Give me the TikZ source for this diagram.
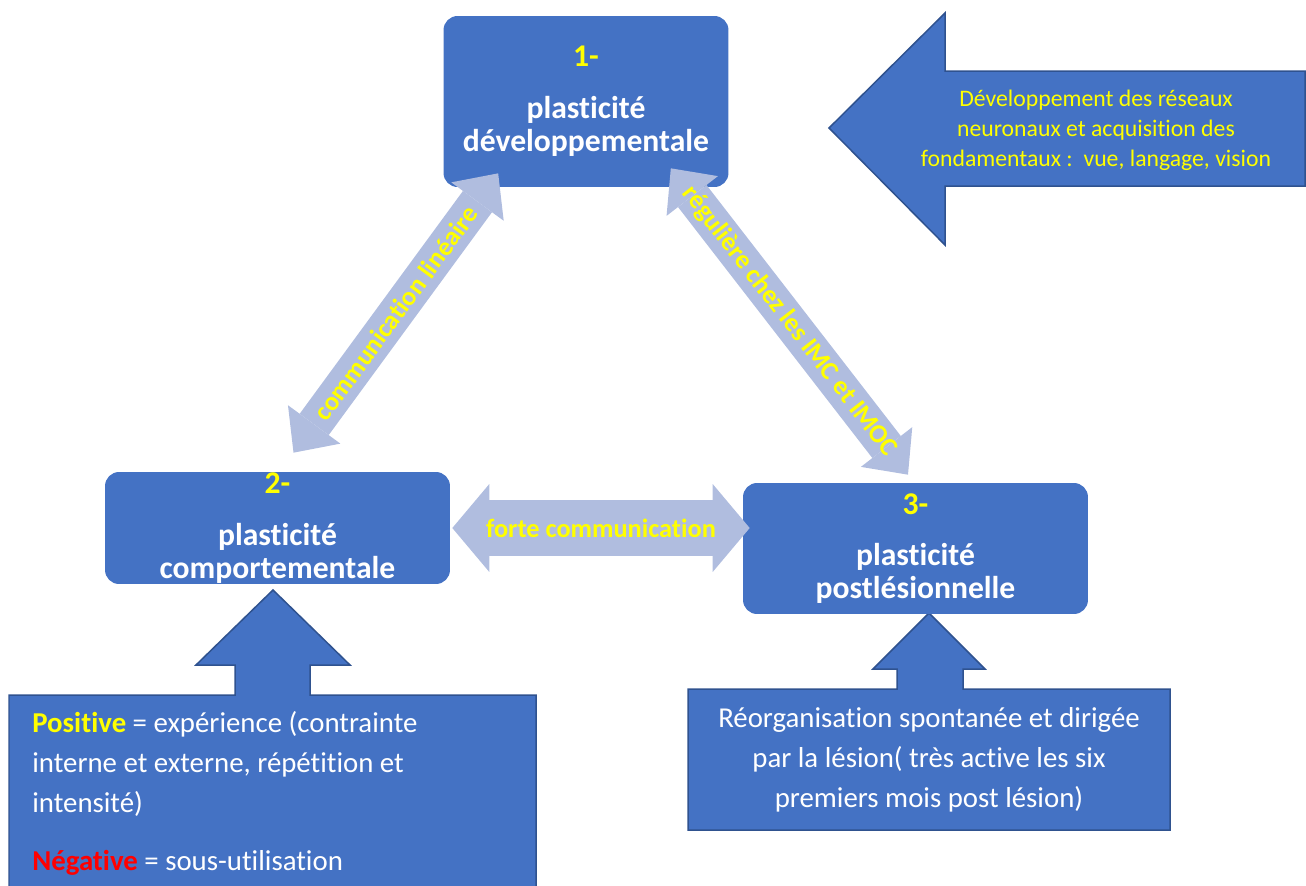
\documentclass[tikz,border=0pt]{standalone}
\usepackage{fontspec}
\setmainfont{Carlito}[Ligatures=NoCommon]
\usetikzlibrary{calc,arrows.meta}
\definecolor{boxblue}{HTML}{4472C4}
\definecolor{edgeblue}{HTML}{2F528F}
\definecolor{linkblue}{HTML}{B0BDDF}
\definecolor{hiyellow}{HTML}{FFFF00}
\definecolor{hired}{HTML}{FF0000}
\tikzset{
  plastbox/.style args={#1,#2}{
    rounded corners=0.28cm,
    fill=boxblue,
    text=white,
    align=center,
    inner sep=0pt,
    minimum width=#1 cm,
    minimum height=#2 cm,
    font=\fontsize{18}{18.7}\selectfont\bfseries
  },
  link/.style={
    draw=linkblue,
    line width=0.72cm,
    arrows={Triangle[length=0.7cm,width=1.3cm,line width=0pt]-Triangle[length=0.7cm,width=1.3cm,line width=0pt]}
  },
  biglink/.style={
    draw=linkblue,
    line width=1.12cm,
    arrows={Triangle[length=0.74cm,width=1.76cm,line width=0pt]-Triangle[length=0.74cm,width=1.76cm,line width=0pt]}
  },
  linklabel/.style={
    text=hiyellow,
    inner sep=0pt,
    font=\fontsize{15}{15}\selectfont\bfseries
  },
  calloutshape/.style={
    fill=boxblue,
    draw=edgeblue,
    line width=0.03cm
  },
  callouttext/.style args={#1,#2}{
    inner sep=0pt,
    font=\fontsize{#1}{#2}\selectfont
  }
}
\begin{document}
\begin{tikzpicture}[x=0.02cm,y=-0.02cm]
  \useasboundingbox (0,0) rectangle (1306,886);

  \draw[calloutshape] (829,128) -- (945,13) -- (945,71) -- (1305,71) -- (1305,186) -- (945,186) -- (945,245) -- cycle;
  \draw[calloutshape] (9,695) -- (235,695) -- (235,665) -- (196,665) -- (273,590) -- (350,665) -- (310,665) -- (310,695) -- (536,695) -- (536,900) -- (9,900) -- cycle;
  \draw[calloutshape] (688,689) -- (897,689) -- (897,669) -- (873,669) -- (929,613) -- (985,669) -- (963,669) -- (963,689) -- (1170,689) -- (1170,830) -- (688,830) -- cycle;

  \node[callouttext={13.5,17},text=hiyellow,align=center] (c1) at (1096,130) {D\'eveloppement des r\'eseaux\\neuronaux et acquisition des\\fondamentaux :\ \ vue, langage, vision};
  \node[callouttext={16.4,22.7},text=white,align=left,anchor=west] (c2) at (32,793.5) {\textcolor{hiyellow}{\textbf{Positive}} = exp\'erience (contrainte\\interne et externe, r\'ep\'etition et\\intensit\'e)\\[0.38cm]\textcolor{hired}{\textbf{N\'egative}} = sous-utilisation};
  \node[callouttext={16.4,22.7},text=white,align=center] (c3) at (929,759.5) {R\'eorganisation spontan\'ee et dirig\'ee\\par la l\'esion( tr\`es active les six\\premiers mois post l\'esion)};

  \node[plastbox={5.7,3.42}] (p1) at (586,101.5) {\textcolor{hiyellow}{1-}\\[10.8pt]plasticit\'e\\d\'eveloppementale};
  \node[plastbox={6.9,2.24}] (p2) at (277.5,528) {\textcolor{hiyellow}{2-}\\[10.8pt]plasticit\'e\\comportementale};
  \node[plastbox={6.9,2.62}] (p3) at (915.5,548.5) {\textcolor{hiyellow}{3-}\\[10.8pt]plasticit\'e\\postl\'esionnelle};

  \path ($(p2.north)+(16,-19)$) edge[link] node[linklabel,sloped] {communication lin\'eaire} ($(p1.south west)+(55,-14)$)
        ($(p1.south east)+(-58,-19)$) edge[link] node[linklabel,sloped] {r\'eguli\`ere chez les IMC et IMOC} ($(p3.north)+(-7.5,-8)$)
        ($(p2.east)+(2,0)$) edge[biglink] node[linklabel] {forte communication} ($(p2.east -| p3.west)+(7,0)$);
\end{tikzpicture}
\end{document}
